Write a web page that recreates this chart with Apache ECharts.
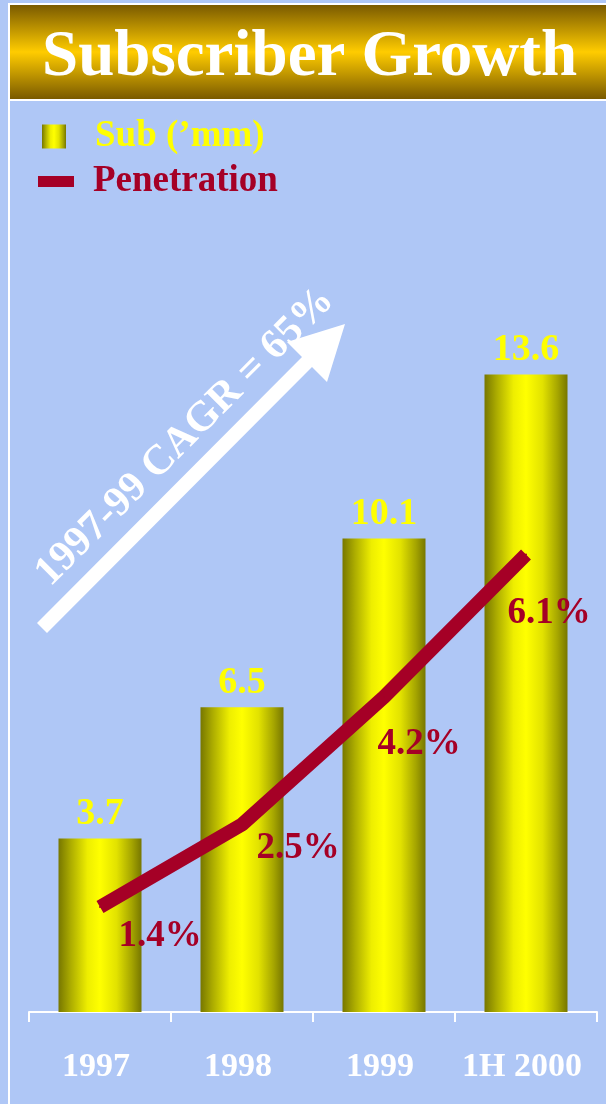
<!DOCTYPE html>
<html lang="en">
<head>
    <meta charset="UTF-8">
    <title>Subscriber Growth</title>
    <script src="https://cdn.jsdelivr.net/npm/echarts@6/dist/echarts.min.js"></script>
    <style>
        html, body { margin: 0; padding: 0; }
        #main { width: 606px; height: 1104px; }
    </style>
</head>
<body>
<div id="main"></div>

<script type="text/javascript">
    // chart data
    var categories = ['1997', '1998', '1999', '1H 2000'];
    var subs = [3.7, 6.5, 10.1, 13.6];          // Sub ('mm)
    var penetration = [1.4, 2.5, 4.2, 6.1];     // %

    var serif = 'Liberation Serif';
    var red = '#A50026';

    // where each % label sits relative to its point
    var penLabelOffsets = [[60, 29], [56, 24], [35, 47], [23, 59]];

    var myChart = echarts.init(document.getElementById('main'));

    var barGradient = new echarts.graphic.LinearGradient(0, 0, 1, 0, [
        {offset: 0, color: '#777700'},
        {offset: 0.15, color: '#adad00'},
        {offset: 0.35, color: '#eeee00'},
        {offset: 0.5, color: '#ffff00'},
        {offset: 0.7, color: '#e2e200'},
        {offset: 0.88, color: '#a6a600'},
        {offset: 1, color: '#777700'}
    ]);

    var penData = penetration.map(function (v, i) {
        return {value: v, label: {offset: penLabelOffsets[i]}};
    });

    var option = {
        backgroundColor: '#AFC7F6',
        animation: false,
        title: {
            text: 'Subscriber Growth',
            left: 42,
            top: 26,
            padding: 0,
            textStyle: {
                fontFamily: serif,
                fontWeight: 'bold',
                fontSize: 65,
                color: '#ffffff',
                textShadowColor: '#222222',
                textShadowOffsetX: 3,
                textShadowOffsetY: 3,
                textShadowBlur: 0
            }
        },
        legend: [
            {
                data: ['Sub (\u2019mm)'],
                left: 42,
                top: 118,
                padding: 0,
                icon: 'rect',
                itemWidth: 24,
                itemHeight: 24,
                textStyle: {
                    fontFamily: serif, fontWeight: 'bold', fontSize: 37,
                    color: '#ffff00', padding: [0, 0, 0, 24]
                }
            },
            {
                data: ['Penetration'],
                left: 38,
                top: 163,
                padding: 0,
                icon: 'rect',
                itemWidth: 36,
                itemHeight: 11,
                textStyle: {
                    fontFamily: serif, fontWeight: 'bold', fontSize: 37,
                    color: red, padding: [0, 0, 0, 14]
                }
            }
        ],
        grid: {
            left: 29,
            right: 9,
            top: 262,
            bottom: 92
        },
        xAxis: {
            type: 'category',
            data: categories,
            axisLine: {lineStyle: {color: '#ffffff', width: 2}},
            axisTick: {show: true, interval: 0, lineStyle: {color: '#ffffff', width: 2}, length: 10},
            axisLabel: {
                interval: 0,
                color: '#ffffff',
                fontFamily: serif,
                fontWeight: 'bold',
                fontSize: 34,
                margin: 38,
                padding: [0, 8, 0, 0]
            }
        },
        yAxis: [
            {type: 'value', min: 0, max: 16, show: false, splitLine: {show: false}},
            {type: 'value', min: 0, max: 10, show: false, splitLine: {show: false}}
        ],
        graphic: [
            // frame and title band
            {type: 'rect', shape: {x: 8, y: 3, width: 598, height: 2}, style: {fill: '#ffffff'}, z: 1},
            {type: 'rect', shape: {x: 8, y: 3, width: 2, height: 1101}, style: {fill: '#ffffff'}, z: 1},
            {
                type: 'rect',
                shape: {x: 10, y: 5, width: 596, height: 94},
                style: {
                    fill: new echarts.graphic.LinearGradient(0, 0, 0, 1, [
                        {offset: 0, color: '#7a5a00'},
                        {offset: 0.5, color: '#ffcc00'},
                        {offset: 1, color: '#7a5a00'}
                    ])
                },
                z: 1
            },
            {type: 'rect', shape: {x: 8, y: 99, width: 598, height: 2}, style: {fill: '#ffffff'}, z: 1},
            // CAGR arrow
            {
                type: 'polygon',
                shape: {
                    points: [[37, 623], [302, 357], [287, 342], [345, 324], [327, 382], [312, 367], [47, 633]]
                },
                style: {fill: '#ffffff'},
                z: 5
            },
            {
                type: 'text',
                x: 185,
                y: 437,
                rotation: Math.PI / 4,
                style: {
                    text: '1997-99 CAGR = 65%',
                    fill: '#ffffff',
                    font: 'bold 42px "Liberation Serif"',
                    align: 'center',
                    verticalAlign: 'middle'
                },
                z: 5
            }
        ],
        series: [
            {
                name: 'Sub (\u2019mm)',
                type: 'bar',
                data: subs,
                barWidth: 83,
                itemStyle: {color: barGradient},
                label: {
                    show: true,
                    position: 'top',
                    distance: 5,
                    color: '#ffff00',
                    fontFamily: serif,
                    fontWeight: 'bold',
                    fontSize: 38
                }
            },
            {
                name: 'Penetration',
                type: 'line',
                yAxisIndex: 1,
                data: penData,
                symbol: 'circle',
                symbolSize: 2,
                itemStyle: {color: red},
                lineStyle: {color: red, width: 14},
                z: 3,
                label: {
                    show: true,
                    position: 'inside',
                    formatter: '{c}%',
                    color: red,
                    fontFamily: serif,
                    fontWeight: 'bold',
                    fontSize: 37
                }
            }
        ]
    };

    myChart.setOption(option);
</script>
</body>
</html>
